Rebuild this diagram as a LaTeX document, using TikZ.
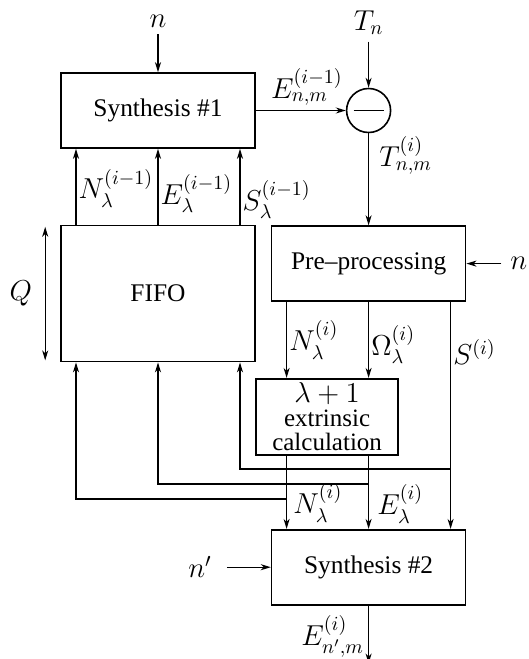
\documentclass[tikz,border=0pt]{standalone}
\usepackage{amsmath,amssymb}
\usepackage{fontspec}
\setmainfont{Liberation Serif}
\usetikzlibrary{arrows.meta,positioning,calc}
\tikzset{
  block/.style  = {rectangle, draw, line width=0.8pt,
                   minimum width=97pt, minimum height=37.5pt,
                   inner sep=0pt, align=center},
  tblock/.style = {block, minimum height=68pt},
  eblock/.style = {block, minimum width=71pt, minimum height=38pt,
                   font=\fontsize{12.5}{12}\selectfont},
  sub/.style    = {circle, draw, line width=0.8pt, minimum size=22pt,
                   inner sep=0pt},
  arr/.style    = {-{Stealth[length=5pt,width=3pt,inset=1.5pt]}, line width=0.65pt},
  darr/.style   = {{Stealth[length=5pt,width=3pt,inset=1.5pt]}-{Stealth[length=5pt,width=3pt,inset=1.5pt]},
                   line width=0.65pt},
  lbl/.style    = {inner sep=1pt, font=\Large},
  tag/.style    = {font=\Large},
}

\begin{document}
\begin{tikzpicture}[x=0.5pt, y=-0.5pt, font=\fontsize{12.7}{15}\selectfont]
\useasboundingbox (0,0) rectangle (529,659);

%% -- Blocks ----------------------------------------------------------------
\node[block] (syn1) at (158,110.5) {Synthesis \#1};
\node[sub, right=45pt of syn1] (minus) {};
\draw[line width=0.65pt] ([xshift=-7.5pt]minus.center) -- ([xshift=7.5pt]minus.center);
\node[tblock, below=38pt of syn1] (fifo) {FIFO};
\node[block, below=46pt of minus] (prep) {Pre--processing};
\node[eblock, below=38pt of prep, xshift=-20.75pt] (extr)
  {{\fontsize{14.4}{12}\selectfont$\lambda+1$}\\extrinsic\\calculation};
\node[block, below=113.5pt of prep] (syn2) {Synthesis \#2};

%% -- Free ends -------------------------------------------------------------
\coordinate (nTop) at ([yshift=19pt]syn1.north);
\coordinate (tTop) at ([yshift=23pt]minus.north);
\coordinate (nRight) at ([xshift=17.5pt]prep.east);
\coordinate (nLeft) at ([xshift=-22pt]syn2.west);
\coordinate (out) at ([yshift=-29pt]syn2.south);

\node[tag, above=0pt of nTop] (nlab) {$n$};
\node[tag, above=0pt of tTop] (tlab) {$T_n$};
\node[tag, right=1pt of nRight] (nrlab) {$n$};
\node[tag, left=4pt of nLeft] (nllab) {$n'$};

%% -- Inputs ----------------------------------------------------------------
\draw[arr] (nTop) -- (syn1);
\draw[arr] (tTop) -- (minus);
\draw[arr] (nRight) -- (prep);
\draw[arr] (nLeft) -- (syn2);

%% -- Top path --------------------------------------------------------------
\draw[arr] (syn1) -- node[above, lbl, xshift=3pt, yshift=1pt] {$E_{n,m}^{(i-1)}$} (minus);
\draw[arr] (minus) -- node[right, lbl, pos=0.24, xshift=4pt] {$T_{n,m}^{(i)}$} (prep);

%% -- FIFO -> Synthesis #1 --------------------------------------------------
\draw[arr] ([xshift=-41pt]fifo.north) -- node[right, lbl, pos=0.48] {$N_\lambda^{(i-1)}$} ([xshift=-41pt]syn1.south);
\draw[arr] (fifo.north) -- node[right, lbl, pos=0.41] {$E_\lambda^{(i-1)}$} (syn1.south);
\draw[arr] ([xshift=41pt]fifo.north) -- node[right, lbl, pos=0.33] {$S_\lambda^{(i-1)}$} ([xshift=41pt]syn1.south);

%% -- Q ---------------------------------------------------------------------
\coordinate (qTop) at ([xshift=-7.5pt,yshift=-1pt]fifo.north west);
\coordinate (qBot) at ([xshift=-7.5pt,yshift=1pt]fifo.south west);
\draw[darr] (qTop) -- node[tag, left=3pt] {$Q$} (qBot);

%% -- Pre-processing -> extrinsic / Synthesis #2 ----------------------------
\draw[arr] ([xshift=-41pt]prep.south) -- node[right, lbl, pos=0.5] {$N_\lambda^{(i)}$} ([xshift=-41pt]prep.south |- extr.north);
\draw[arr] (prep.south) -- node[right, lbl, pos=0.56] {$\Omega_\lambda^{(i)}$} (prep.south |- extr.north);
\draw[arr] ([xshift=41pt]prep.south) -- node[right, lbl, pos=0.22] {$S^{(i)}$} ([xshift=41pt]syn2.north);

%% -- extrinsic -> Synthesis #2 ---------------------------------------------
\draw[arr] ([xshift=-41pt]syn2.north |- extr.south) -- node[right, lbl, pos=0.65, xshift=2pt] {$N_\lambda^{(i)}$} ([xshift=-41pt]syn2.north);
\draw[arr] (syn2.north |- extr.south) -- node[right, lbl, pos=0.66, xshift=3pt] {$E_\lambda^{(i)}$} (syn2.north);

%% -- feedback into FIFO ----------------------------------------------------
\draw[arr] ([xshift=41pt,yshift=30pt]syn2.north) -| ([xshift=41pt]fifo.south);
\draw[arr] ([yshift=22.5pt]syn2.north) -| (fifo.south);
\draw[arr] ([xshift=-41pt,yshift=15pt]syn2.north) -| ([xshift=-41pt]fifo.south);

%% -- Output ----------------------------------------------------------------
\draw[arr] (syn2) -- node[left, lbl, pos=0.53, xshift=-1pt] {$E_{n',m}^{(i)}$} (out);

\end{tikzpicture}
\end{document}
